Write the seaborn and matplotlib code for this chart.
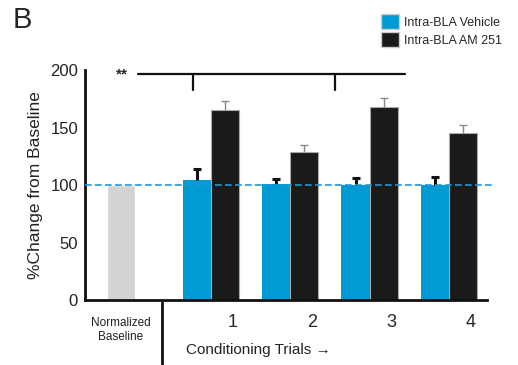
import pandas as pd
import matplotlib.pyplot as plt
import seaborn as sns
import numpy as np
from matplotlib.patches import Patch
from matplotlib.lines import Line2D

# values (% change from baseline)
trials = ['1', '2', '3', '4']
groups = ['Intra-BLA Vehicle', 'Intra-BLA AM 251']
vehicle = [104, 101, 100, 100]
vehicle_err = [10, 4.5, 6, 7]
am251 = [165, 129, 168, 145]
am251_err = [8.5, 6, 8, 7.5]
baseline = 100

colors = {'Intra-BLA Vehicle': '#009ad5', 'Intra-BLA AM 251': '#1a1a1a'}

df = pd.DataFrame({
    'trial': trials * 2,
    'group': [groups[0]] * 4 + [groups[1]] * 4,
    'value': vehicle + am251,
})

sns.set_style('white')
plt.rcParams['font.family'] = ['Liberation Sans', 'DejaVu Sans']

fig = plt.figure(figsize=(5.18, 3.65), dpi=100)
ax = fig.add_axes([0.164, 0.178, 0.776, 0.63])

sns.barplot(data=df, x='trial', y='value', hue='group', order=trials,
            hue_order=groups, palette=colors, width=0.71, errorbar=None,
            saturation=1, legend=False, ax=ax)

bar_sets = list(ax.containers)

for p in bar_sets[0]:
    p.set_edgecolor('none')
# light outline on black bars
for p in bar_sets[1]:
    p.set_edgecolor('#aaaaaa')
    p.set_linewidth(0.8)

# one-sided error bars (upper cap only)
errs = [vehicle_err, am251_err]
ecol = ['#111111', '#888888']
elw = [2.2, 1.0]
for k, cont in enumerate(bar_sets):
    xs = [p.get_x() + p.get_width() / 2 for p in cont]
    ys = [p.get_height() for p in cont]
    eb = ax.errorbar(xs, ys, yerr=[np.zeros(4), errs[k]], fmt='none',
                     ecolor=ecol[k], elinewidth=elw[k], capsize=3,
                     capthick=elw[k], zorder=1 if k == 0 else 3)
    eb[1][0].set_visible(False)

# normalized baseline bar
ax.bar(-1.135, baseline, width=0.355, color='#d3d3d3', zorder=2)

ax.set_xlim(-1.59, 3.48)
ax.set_ylim(0, 200)

# dashed 100% reference
ax.plot([-1.59, 3.56], [100, 100], ls=(0, (4, 2)), color='#1a9ad6', lw=1.2,
        clip_on=False, zorder=4)

# significance bracket
ax.plot([-0.92, 2.45], [196.5, 196.5], color='#111111', lw=1.6, clip_on=False)
ax.plot([-0.23, -0.23], [196.5, 183], color='#111111', lw=1.6, clip_on=False)
ax.plot([1.56, 1.56], [196.5, 183], color='#111111', lw=1.6, clip_on=False)
ax.text(-1.12, 196.5, '**', ha='center', va='center', fontsize=11,
        fontweight='bold')

ax.set_xticks([i + 0.27 for i in range(4)])
ax.set_xticklabels(trials, fontsize=13)
ax.tick_params(axis='x', length=0, pad=10)
ax.set_yticks([0, 50, 100, 150, 200])
ax.tick_params(axis='y', labelsize=12, length=2, color='#888888', pad=3,
               labelcolor='#222222')
ax.set_xlabel('')
ax.set_ylabel('%Change from Baseline', fontsize=12.5, color='#222222',
              labelpad=5)

for s in ['top', 'right']:
    ax.spines[s].set_visible(False)
ax.spines['left'].set_linewidth(2)
ax.spines['left'].set_color('#111111')
ax.spines['bottom'].set_linewidth(2)
ax.spines['bottom'].set_color('#111111')

# separator below axis and labels
ax.add_line(Line2D([-0.62, -0.62], [-2, -56], color='#111111', lw=2,
                   clip_on=False))
ax.text(-1.14, -15, 'Normalized\nBaseline', ha='center', va='top',
        fontsize=8.5, color='#222222', linespacing=1.2)
ax.text(0.6, -37, 'Conditioning Trials \u2192', ha='center', va='top',
        fontsize=11, color='#222222')

fig.text(0.025, 0.945, 'B', fontsize=21, va='center', ha='left')

handles = [Patch(facecolor=colors[g], edgecolor='#cccccc') for g in groups]
fig.legend(handles, groups, loc='upper left', bbox_to_anchor=(0.725, 0.975),
           frameon=False, fontsize=9, handlelength=1.5, handleheight=1.5,
           handletextpad=0.4, labelspacing=0.2, borderaxespad=0)

fig.savefig('out.png', dpi=100)
